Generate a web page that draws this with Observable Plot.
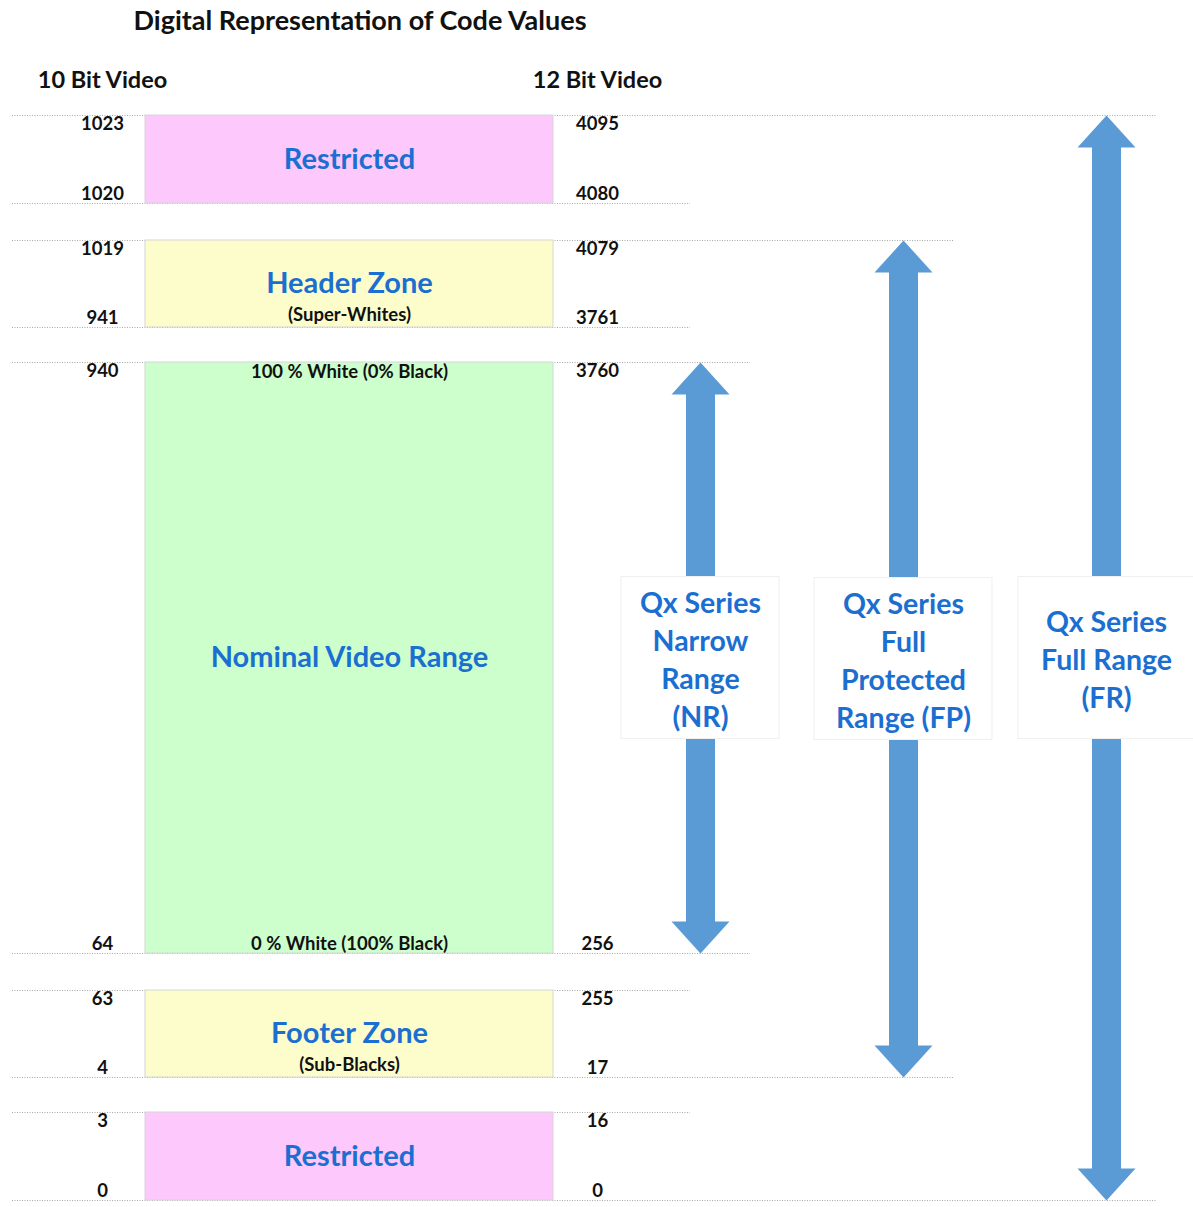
<!DOCTYPE html>
<html>
<head>
<meta charset="utf-8">
<script src="https://cdn.jsdelivr.net/npm/d3@7"></script>
<script src="https://cdn.jsdelivr.net/npm/@observablehq/plot@0.6"></script>
<style>
  body { margin: 0; background: #fff; font-family: Lato, "Open Sans", sans-serif; }
  #title { width: 720px; height: 40px; line-height: 40px; text-align: center; font-weight: 700; font-size: 27px; color: #111; }
  #chart svg { display: block; }
</style>
</head>
<body>
<div id="title">Digital Representation of Code Values</div>
<div id="chart"></div>
<script>
// ---------------- DATA (top to bottom) ----------------
const zoneNames     = ["Restricted", "Header Zone", "Nominal Video Range", "Footer Zone", "Restricted"];
const zoneSubtitles = ["", "(Super-Whites)", "", "(Sub-Blacks)", ""];
const zoneKinds     = ["restricted", "headroom", "nominal", "headroom", "restricted"];
const zoneTopNotes    = ["", "", "100 % White (0% Black)", "", ""];
const zoneBottomNotes = ["", "", "0 % White (100% Black)", "", ""];
const code10Hi = [1023, 1019, 940, 63, 3];
const code10Lo = [1020, 941, 64, 4, 0];
const code12Hi = [4095, 4079, 3760, 255, 16];
const code12Lo = [4080, 3761, 256, 17, 0];
const bitDepthLabels = ["10 Bit Video", "12 Bit Video"];

const rangeLabels = [
  "Qx Series\nNarrow\nRange\n(NR)",
  "Qx Series\nFull\nProtected\nRange (FP)",
  "Qx Series\nFull Range\n(FR)"
];
const range10Lo = [64, 4, 0];
const range10Hi = [940, 1019, 1023];

// ---------------- LAYOUT & STYLE ----------------
const W = 1193, H = 1167, MB = 7;
const LAYOUT = {
  zoneHeights: [88, 87, 591, 87, 88],   // schematic units, top to bottom
  gaps: [37, 35, 37, 35],               // between consecutive zones
  xCode: [102, 597],
  xZone: [145, 553],
  xArrows: [700, 903, 1106],
  boxWidths: [158, 178, 176],
  boxHeight: 162,
  guideStart: 12, guideEnd: 690, guideOverhang: 50,
  headerOffset: 35
};
const BLUE = "#1b6fd1", ARROW = "#5b9bd5";
const ZONE_COLORS = {restricted: "#fdc8fb", headroom: "#fdfdcc", nominal: "#ccffcc"};

// stack zones bottom-up in schematic units
const n = zoneNames.length;
const zBottom = [], zTop = [];
let acc = 0;
for (let i = n - 1; i >= 0; i--) {
  zBottom[i] = acc;
  zTop[i] = acc + LAYOUT.zoneHeights[i];
  acc = zTop[i] + (i > 0 ? LAYOUT.gaps[i - 1] : 0);
}
function codeToUnit(c) {
  for (let i = 0; i < n; i++) {
    if (c >= code10Lo[i] && c <= code10Hi[i]) {
      const t = (c - code10Lo[i]) / (code10Hi[i] - code10Lo[i]);
      return zBottom[i] + t * (zTop[i] - zBottom[i]);
    }
  }
  return 0;
}

const zones = zoneNames.map((name, i) => ({
  name, sub: zoneSubtitles[i], kind: zoneKinds[i],
  topNote: zoneTopNotes[i], bottomNote: zoneBottomNotes[i],
  hi10: code10Hi[i], lo10: code10Lo[i], hi12: code12Hi[i], lo12: code12Lo[i],
  y1: zBottom[i], y2: zTop[i], mid: (zBottom[i] + zTop[i]) / 2
}));
const ranges = rangeLabels.map((label, i) => {
  const yLo = codeToUnit(range10Lo[i]), yHi = codeToUnit(range10Hi[i]);
  return {label, lo: range10Lo[i], hi: range10Hi[i], x: LAYOUT.xArrows[i], yLo, yHi, mid: (yLo + yHi) / 2, w: LAYOUT.boxWidths[i]};
});
const boundaries = zones.flatMap(z => [{y: z.y2, code: z.hi10}, {y: z.y1, code: z.lo10}]).map(b => {
  const ends = ranges.filter(r => r.lo === b.code || r.hi === b.code).map(r => r.x + LAYOUT.guideOverhang);
  return {...b, x2: ends.length ? d3.max(ends) : LAYOUT.guideEnd};
});
const codeLabels = zones.flatMap(z => [
  {x: LAYOUT.xCode[0], y: z.y2, t: String(z.hi10), pos: "top"},
  {x: LAYOUT.xCode[0], y: z.y1, t: String(z.lo10), pos: "bottom"},
  {x: LAYOUT.xCode[1], y: z.y2, t: String(z.hi12), pos: "top"},
  {x: LAYOUT.xCode[1], y: z.y1, t: String(z.lo12), pos: "bottom"}
]);
const headers = bitDepthLabels.map((t, i) => ({t, x: LAYOUT.xCode[i], y: zTop[0] + LAYOUT.headerOffset}));

const arrowHead = {
  draw(ctx) { ctx.moveTo(0, 0); ctx.lineTo(29, 32); ctx.lineTo(-29, 32); ctx.closePath(); }
};
const zoneCx = (LAYOUT.xZone[0] + LAYOUT.xZone[1]) / 2;
const smallText = {fill: "#111", fontSize: 18.5, fontWeight: 700};

const chart = Plot.plot({
  width: W, height: H,
  marginTop: 0, marginLeft: 0, marginRight: 0, marginBottom: MB,
  x: {domain: [0, W], axis: null},
  y: {domain: [0, H - MB], axis: null},
  color: {domain: Object.keys(ZONE_COLORS), range: Object.values(ZONE_COLORS)},
  style: {fontFamily: "Lato, 'Open Sans', sans-serif", background: "white"},
  marks: [
    // dotted guide lines
    Plot.ruleY(boundaries, {y: "y", x1: LAYOUT.guideStart, x2: "x2", stroke: "#a8a8a8", strokeWidth: 1, strokeDasharray: "1,1.5"}),
    // zones
    Plot.rect(zones, {x1: LAYOUT.xZone[0], x2: LAYOUT.xZone[1], y1: "y1", y2: "y2", fill: "kind", stroke: "#d6d6d6", strokeWidth: 1}),
    Plot.text(zones, {x: zoneCx, y: "mid", text: "name", fill: BLUE, fontSize: 29, fontWeight: 700}),
    Plot.text(zones.filter(z => z.sub), {x: zoneCx, y: "mid", dy: 31, text: "sub", ...smallText}),
    Plot.text(zones.filter(z => z.topNote), {x: zoneCx, y: "y2", dy: 10, text: "topNote", ...smallText}),
    Plot.text(zones.filter(z => z.bottomNote), {x: zoneCx, y: "y1", dy: -9, text: "bottomNote", ...smallText}),
    // code values
    Plot.text(codeLabels.filter(d => d.pos === "top"), {x: "x", y: "y", dy: 9, text: "t", ...smallText}),
    Plot.text(codeLabels.filter(d => d.pos === "bottom"), {x: "x", y: "y", dy: -9, text: "t", ...smallText}),
    // column headers
    Plot.text(headers, {x: "x", y: "y", text: "t", fill: "#111", fontSize: 23.5, fontWeight: 700}),
    // arrows (shaft from top to bottom, inset by head length)
    Plot.ruleX(ranges, {x: "x", y1: "yHi", y2: "yLo", stroke: ARROW, strokeWidth: 29, insetTop: 30, insetBottom: 30}),
    Plot.dot(ranges, {x: "x", y: "yHi", symbol: arrowHead, fill: ARROW, stroke: "none"}),
    Plot.dot(ranges, {x: "x", y: "yLo", symbol: arrowHead, rotate: 180, fill: ARROW, stroke: "none"}),
    // label boxes
    Plot.rect(ranges, {x1: d => d.x - d.w / 2, x2: d => d.x + d.w / 2, y1: d => d.mid - LAYOUT.boxHeight / 2, y2: d => d.mid + LAYOUT.boxHeight / 2, fill: "white", stroke: "#efefef"}),
    Plot.text(ranges, {x: "x", y: "mid", text: "label", fill: BLUE, fontSize: 28.5, fontWeight: 700, lineHeight: 1.33})
  ]
});
document.getElementById("chart").appendChild(chart);
</script>
</body>
</html>
